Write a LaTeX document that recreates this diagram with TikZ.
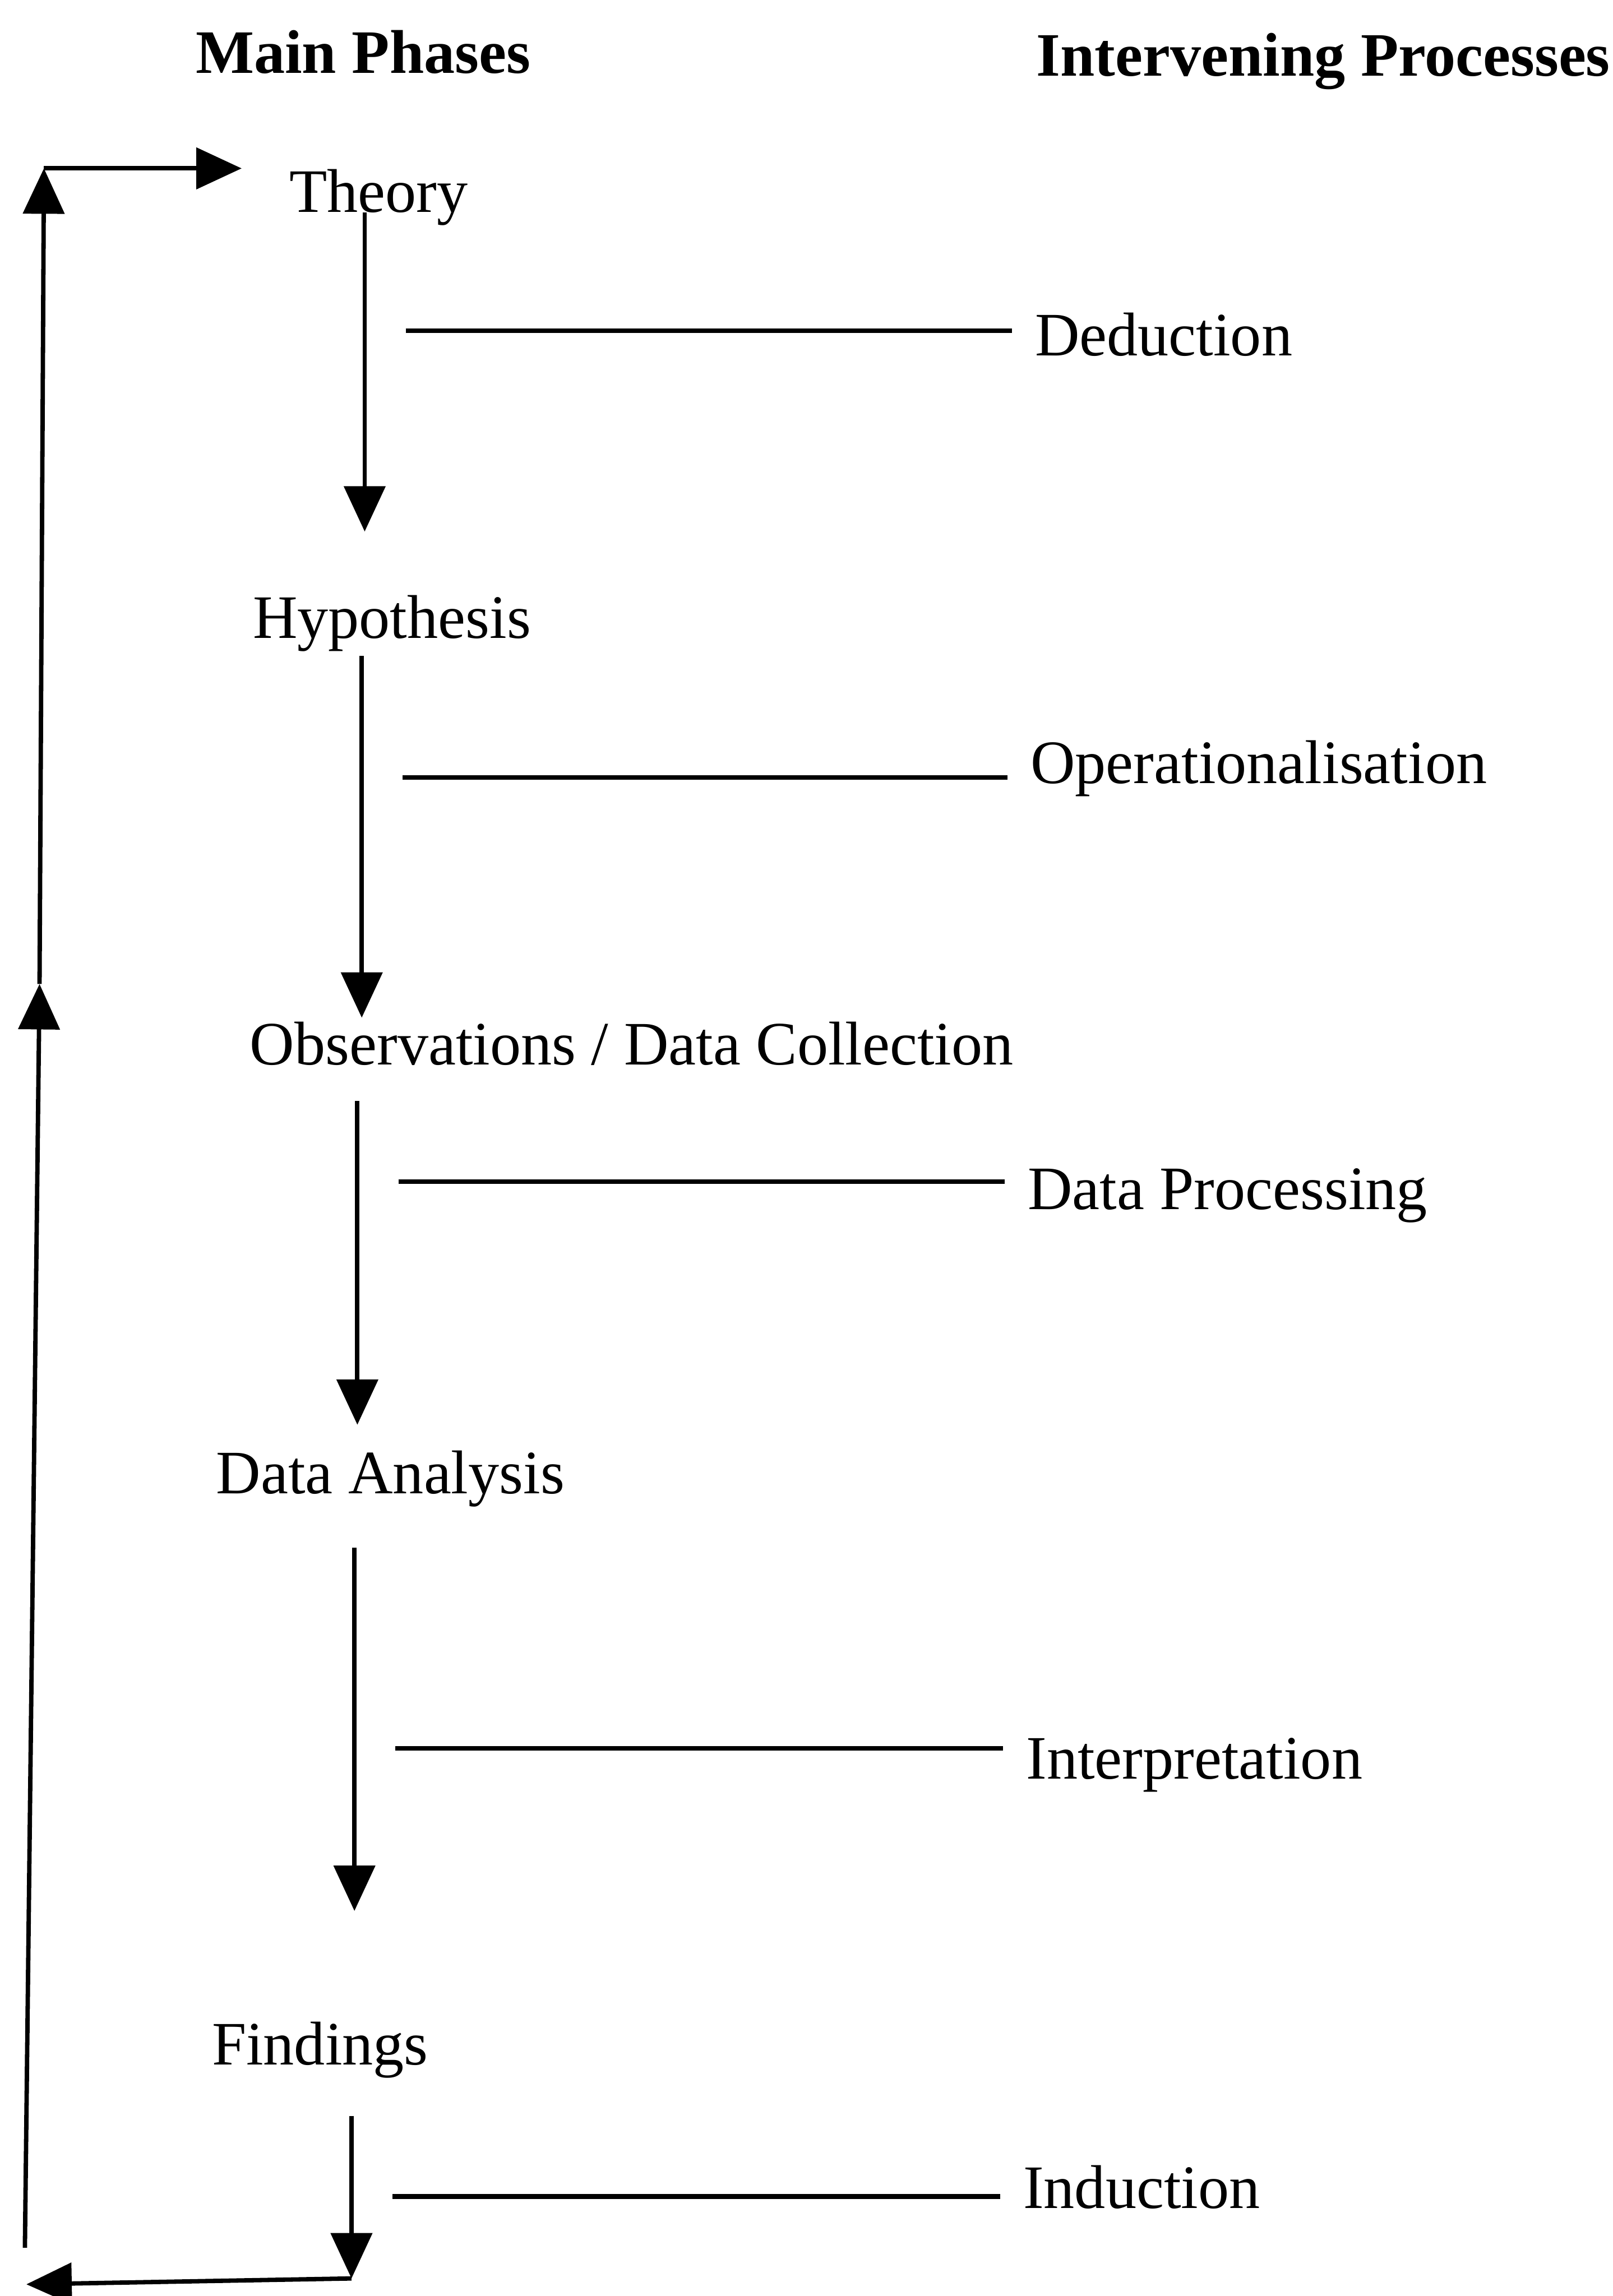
\documentclass[tikz,border=0pt]{standalone}
\usepackage{fontspec}
\setmainfont{Liberation Serif}
\usepackage{tikz}
\usetikzlibrary{arrows.meta}

\tikzset{
    phase/.style={anchor=base west, inner sep=0pt, font=\fontsize{12}{14}\selectfont},
    head/.style={phase, font=\fontsize{12}{14}\selectfont\bfseries},
    flow/.style={line width=0.85pt, -{Triangle[length=3.1mm, width=2.8mm]}},
    tie/.style={line width=0.9pt, shorten >=1.5mm}
}

\begin{document}
\begin{tikzpicture}[node distance=2cm, auto]
    \useasboundingbox (0,0) rectangle (11.01,-15.68);

    % Headings
    \node[head] (mainhd) at (1.33,-0.50) {Main Phases};
    \node[head] (prochd) at (7.07,-0.52) {Intervening Processes};

    % Main phases
    \node[phase] (theory) at (1.97,-1.45) {Theory};
    \node[phase] (hypo) at (1.72,-4.36) {Hypothesis};
    \node[phase] (obs) at (1.70,-7.27) {Observations / Data Collection};
    \node[phase] (anal) at (1.47,-10.20) {Data Analysis};
    \node[phase] (find) at (1.44,-14.10) {Findings};

    % Intervening processes
    \node[phase] (ded) at (7.06,-2.43) {Deduction};
    \node[phase] (oper) at (7.03,-5.35) {Operationalisation};
    \node[phase] (proc) at (7.01,-8.26) {Data Processing};
    \node[phase] (interp) at (7.00,-12.15) {Interpretation};
    \node[phase] (induc) at (6.98,-15.08) {Induction};

    % Arrow ends
    \coordinate (s1) at (2.49,-1.45);   \coordinate (e1) at (2.49,-3.63);
    \coordinate (s2) at (2.47,-4.48);   \coordinate (e2) at (2.47,-6.95);
    \coordinate (s3) at (2.44,-7.52);   \coordinate (e3) at (2.44,-9.73);
    \coordinate (s4) at (2.42,-10.57);  \coordinate (e4) at (2.42,-13.05);
    \coordinate (s5) at (2.40,-14.45);  \coordinate (e5) at (2.40,-15.56);
    \coordinate (back) at (0.18,-15.60);
    \coordinate (low) at (0.17,-15.35);
    \coordinate (mid) at (0.27,-6.72);
    \coordinate (top) at (0.30,-1.15);
    \coordinate (into) at (1.65,-1.15);

    % Tie lines
    \coordinate (t1) at (2.77,-2.26);
    \coordinate (t2) at (2.75,-5.31);
    \coordinate (t3) at (2.72,-8.07);
    \coordinate (t4) at (2.70,-11.94);
    \coordinate (t5) at (2.68,-15.00);

    % Arrows
    \draw[flow] (s1) -- (e1);
    \draw[flow] (s2) -- (e2);
    \draw[flow] (s3) -- (e3);
    \draw[flow] (s4) -- (e4);
    \draw[flow] (s5) -- (e5);
    \draw[flow] (e5) -- (back);
    \draw[flow] (low) -- (mid);
    \draw[flow] (mid) -- (top);
    \draw[flow] (top) -- (into);

    % Lines to processes
    \draw[tie] (t1) -- (t1 -| ded.west);
    \draw[tie] (t2) -- (t2 -| oper.west);
    \draw[tie] (t3) -- (t3 -| proc.west);
    \draw[tie] (t4) -- (t4 -| interp.west);
    \draw[tie] (t5) -- (t5 -| induc.west);
\end{tikzpicture}
\end{document}
